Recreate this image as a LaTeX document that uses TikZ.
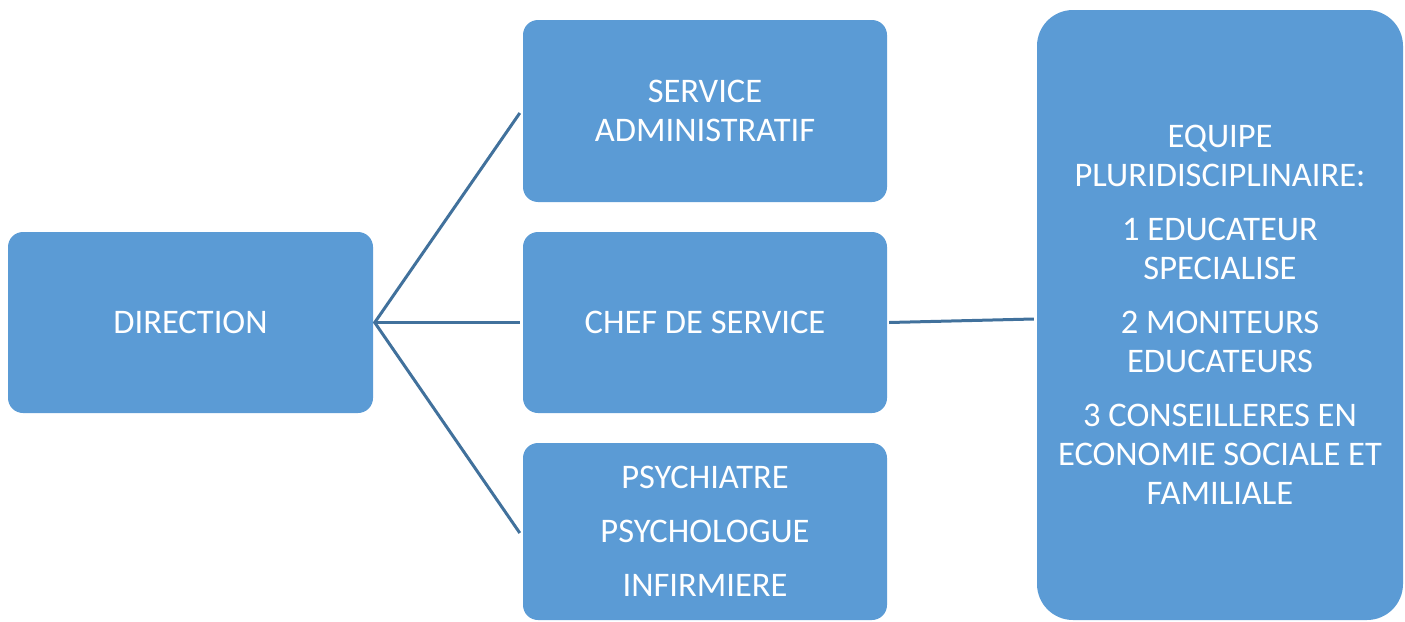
\documentclass[tikz,border=0pt]{standalone}
\usepackage{fontspec}
\setmainfont{Carlito}
\definecolor{boxblue}{HTML}{5B9BD5}
\definecolor{linkblue}{HTML}{41719C}
\begin{document}
\begin{tikzpicture}[x=1pt,y=-1pt,
  box/.style={rectangle, fill=boxblue, draw=none, text=white, align=center,
    inner sep=0pt, rounded corners=15pt,
    font=\fontsize{34.5}{39}\selectfont},
  link/.style={draw=linkblue, line width=3pt}]
\useasboundingbox (0,0) rectangle (1405,621);
\node[box, minimum width=365pt, minimum height=181pt] (dir) at (190.5,322.5) {DIRECTION};
\node[box, minimum width=364pt, minimum height=182pt] (sa) at (705,111) {SERVICE\\ADMINISTRATIF};
\node[box, minimum width=364pt, minimum height=181pt] (chef) at (705,322.5) {CHEF DE SERVICE};
\node[box, minimum width=364pt, minimum height=177pt] (psy) at (705,531.5) {PSYCHIATRE\\[15pt]PSYCHOLOGUE\\[15pt]INFIRMIERE};
\node[box, rounded corners=36pt, minimum width=366pt, minimum height=610pt] (eq) at (1220,315)
  {EQUIPE\\PLURIDISCIPLINAIRE:\\[15pt]1 EDUCATEUR\\SPECIALISE\\[15pt]2 MONITEURS\\EDUCATEURS\\[15pt]3 CONSEILLERES EN\\ECONOMIE SOCIALE ET\\FAMILIALE};
\coordinate (dirout) at ([xshift=1.5pt]dir.east);
\coordinate (sain) at ([xshift=-3pt,yshift=-2pt]sa.west);
\coordinate (chefin) at ([xshift=-3pt]chef.west);
\coordinate (psyin) at ([xshift=-3pt,yshift=-1.5pt]psy.west);
\coordinate (chefout) at ([xshift=2pt]chef.east);
\coordinate (eqin) at ([xshift=-3pt,yshift=-4pt]eq.west);
\draw[link] (sain) -- (dirout) -- (psyin);
\draw[link] (dirout) -- (chefin);
\draw[link] (chefout) -- (eqin);
\end{tikzpicture}
\end{document}
